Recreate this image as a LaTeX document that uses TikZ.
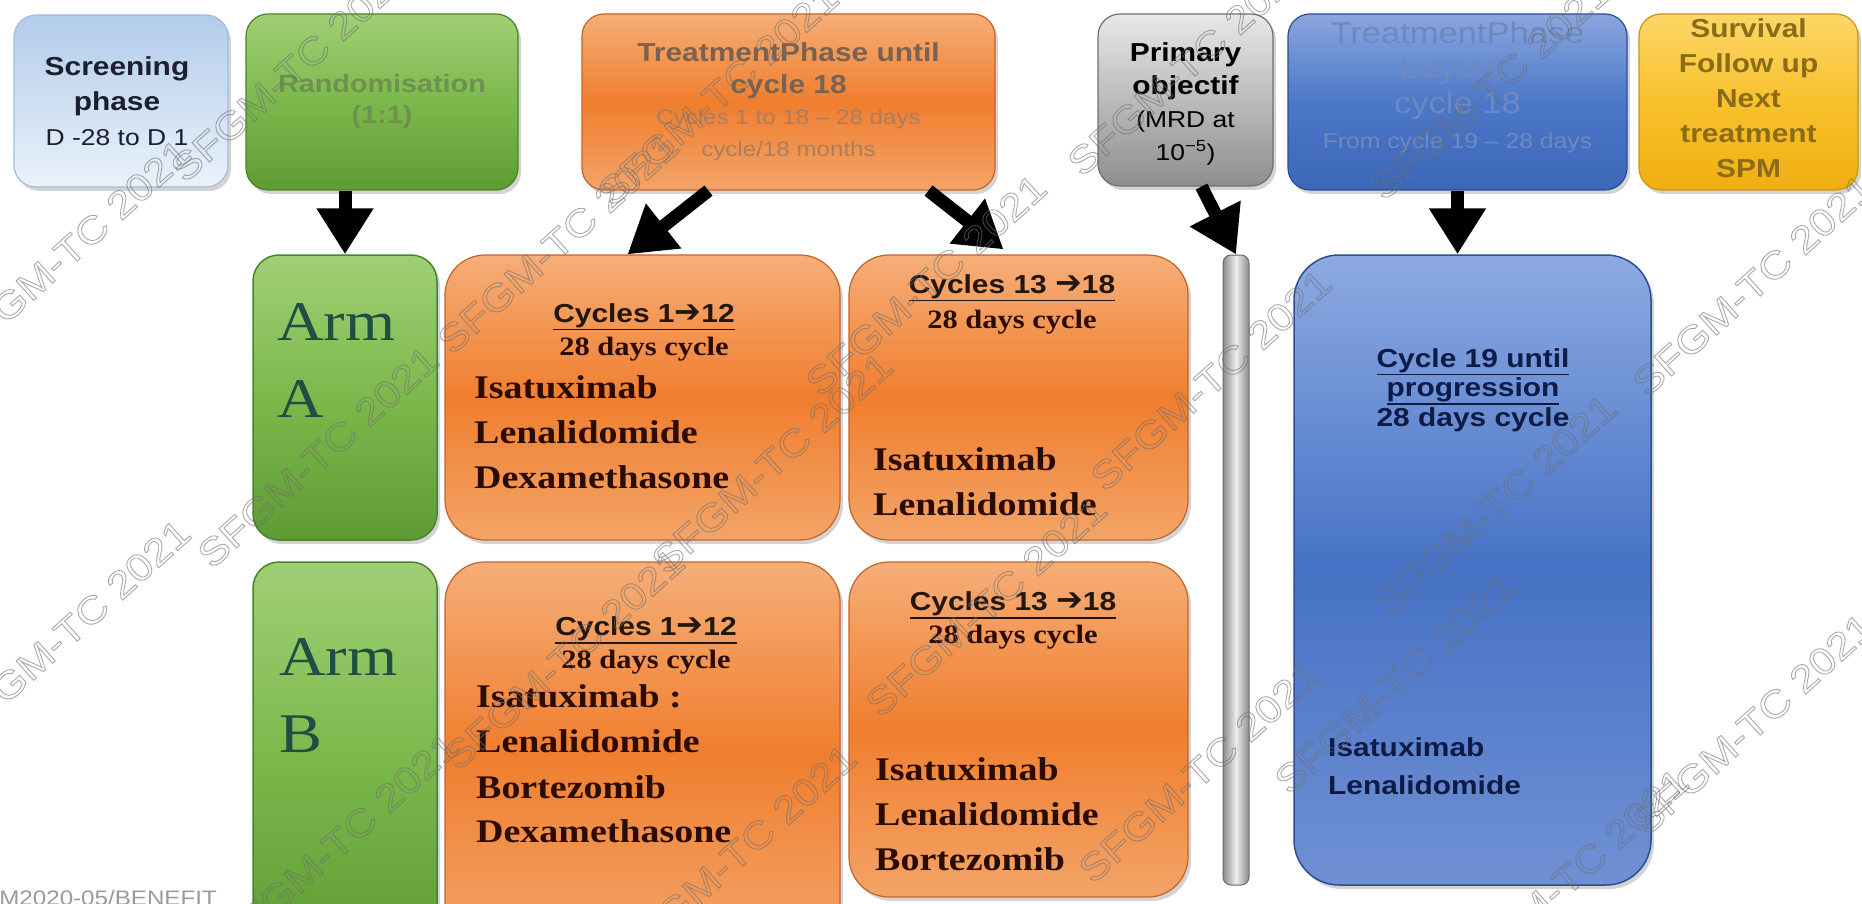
\documentclass[tikz,border=0pt]{standalone}
\usepackage{fontspec}
\setmainfont{Liberation Serif}[FakeStretch=1.15]
\newfontfamily\arial{Liberation Sans}[FakeStretch=1.15]
\newfontfamily\symfont{DejaVu Sans}
\usetikzlibrary{arrows.meta, shadows, calc}

% box colours
\definecolor{scrTop}{HTML}{B2CCEA}
\definecolor{scrBot}{HTML}{EAF2FB}
\definecolor{scrEdge}{HTML}{A3BEDD}
\definecolor{grnTop}{HTML}{A0CF75}
\definecolor{grnMid}{HTML}{7CB94C}
\definecolor{grnBot}{HTML}{5E9B33}
\definecolor{grnEdge}{HTML}{4A842A}
\definecolor{oraTop}{HTML}{F6AE78}
\definecolor{oraMid}{HTML}{F07E2E}
\definecolor{oraBot}{HTML}{F3A468}
\definecolor{oraEdge}{HTML}{C46428}
\definecolor{priTop}{HTML}{E8E8E8}
\definecolor{priBot}{HTML}{8E8E8E}
\definecolor{priEdge}{HTML}{6E6E6E}
\definecolor{bluTop}{HTML}{8AA6DE}
\definecolor{bluMid}{HTML}{4C78C8}
\definecolor{bluBot}{HTML}{3C66B8}
\definecolor{bluEdge}{HTML}{2B4E93}
\definecolor{mntTop}{HTML}{8DAAE2}
\definecolor{mntMid}{HTML}{4672C5}
\definecolor{mntBot}{HTML}{7090D4}
\definecolor{yelTop}{HTML}{FCD767}
\definecolor{yelMid}{HTML}{F8C12C}
\definecolor{yelBot}{HTML}{F1AE12}
\definecolor{yelEdge}{HTML}{C99512}
\definecolor{barSide}{HTML}{8C8C8C}
\definecolor{barLight}{HTML}{EDEDED}
\definecolor{barEdge}{HTML}{6A6A6A}
% text colours
\definecolor{scrText}{HTML}{1B1F2E}
\definecolor{randText}{HTML}{6E9150}
\definecolor{treatText}{HTML}{7A6250}
\definecolor{treatSub}{HTML}{A97E5E}
\definecolor{beyText}{HTML}{6E88C2}
\definecolor{survText}{HTML}{8A6C18}
\definecolor{armText}{HTML}{1F4E42}
\definecolor{hdrText}{HTML}{22170F}
\definecolor{drugText}{HTML}{2A0C02}
\definecolor{maintText}{HTML}{0E1B45}
\definecolor{footGray}{HTML}{9A9A9A}
\definecolor{wmGray}{HTML}{707070}

\newcommand{\thul}[1]{\vtop{\hbox{#1}\kern1.5pt\hrule height 1.6pt}}
\newcommand{\rarr}{{\symfont\fontsize{32}{32}\selectfont ➔}}
\newcommand{\wmtxt}{\special{pdf:code 1 Tr 0.9 w}SFGM-TC 2021\special{pdf:code 0 Tr}}

\begin{document}
\begin{tikzpicture}[x=1pt, y=-1pt,
    phase/.style={draw, rounded corners=22pt, line width=1.2pt, align=center, inner sep=0pt,
        drop shadow={opacity=.35, shadow xshift=3pt, shadow yshift=-4pt}},
    phasetext/.style={align=center, inner sep=0pt},
    arm/.style={draw=grnEdge, rounded corners=26pt, line width=1.5pt, top color=grnTop, bottom color=grnBot, middle color=grnMid,
        minimum width=184pt, drop shadow={opacity=.35, shadow xshift=3pt, shadow yshift=-4pt}},
    regimen/.style={draw=oraEdge, rounded corners=40pt, line width=1.2pt, top color=oraTop, bottom color=oraBot, middle color=oraMid,
        drop shadow={opacity=.35, shadow xshift=3pt, shadow yshift=-4pt}},
    bigarrow/.style={line width=13pt, -{Triangle[width=54pt,length=46pt]}},
    cychead/.style={anchor=base, inner sep=0pt, text=hdrText, font=\arial\bfseries\fontsize{26}{30}\selectfont},
    cycdays/.style={anchor=base, inner sep=0pt, text=drugText, font=\bfseries\fontsize{26.5}{30}\selectfont},
    drug/.style={anchor=base west, inner sep=0pt, text=drugText, font=\bfseries\fontsize{33}{40}\selectfont},
    armlabel/.style={anchor=base west, inner sep=0pt, text=armText, font=\fontsize{56}{60}\selectfont},
    mainttext/.style={inner sep=0pt, text=maintText, font=\arial\bfseries\fontsize{26}{30}\selectfont},
    wmark/.style={rotate=42, text=wmGray, opacity=.6, inner sep=0pt, font=\arial\fontsize{38}{40}\selectfont}
]
\useasboundingbox (0,0) rectangle (1862,904);
\clip (0,0) rectangle (1862,904);

% Top row of phases
\node[phase, draw=scrEdge, top color=scrTop, bottom color=scrBot, minimum width=214pt, minimum height=172pt] (screen) at (121,101) {};
\node[phasetext, text=scrText, font=\arial\fontsize{26}{35}\selectfont, xshift=-4pt] (screentxt) at (screen.center)
    {\textbf{Screening}\\\textbf{phase}\\{\fontsize{23}{35}\selectfont D -28 to D 1}};
\node[phase, draw=grnEdge, top color=grnTop, bottom color=grnBot, middle color=grnMid, minimum width=272pt, minimum height=176pt,
    text=randText, font=\arial\bfseries\fontsize{25}{31}\selectfont] (rando) at (382,102) {Randomisation\\(1:1)};
\node[phase, draw=oraEdge, top color=oraTop, bottom color=oraBot, middle color=oraMid, minimum width=413pt, minimum height=176pt,
    font=\arial\fontsize{26}{31.5}\selectfont] (treat) at (788.5,102)
    {\textcolor{treatText}{\textbf{TreatmentPhase until}}\\\textcolor{treatText}{\textbf{cycle 18}}\\
     \textcolor{treatSub}{\fontsize{21}{31.5}\selectfont Cycles 1 to 18 – 28 days}\\\textcolor{treatSub}{\fontsize{21}{31.5}\selectfont cycle/18 months}};
\node[phase, draw=priEdge, top color=priTop, bottom color=priBot, minimum width=175pt, minimum height=172pt] (primobj) at (1185.5,100) {};
\node[phasetext, font=\arial\fontsize{26}{33}\selectfont, yshift=-4pt] (primtxt) at (primobj.center)
    {\textbf{Primary}\\\textbf{objectif}\\{\fontsize{23}{33}\selectfont(MRD at}\\{\fontsize{23}{33}\selectfont 10\textsuperscript{−5})}};
\node[phase, draw=bluEdge, top color=bluTop, bottom color=bluBot, middle color=bluMid, minimum width=339pt, minimum height=176pt] (beyond) at (1457.5,102) {};
\node[phasetext, text=beyText, font=\arial\fontsize{30}{35}\selectfont, yshift=15pt] (beyondtxt) at (beyond.center)
    {TreatmentPhase\\beyond\\cycle 18\\{\fontsize{21.5}{35}\selectfont From cycle 19 – 28 days}};
\node[phase, draw=yelEdge, top color=yelTop, bottom color=yelBot, middle color=yelMid, minimum width=219pt, minimum height=176pt] (surv) at (1748.5,102) {};
\node[phasetext, text=survText, font=\arial\bfseries\fontsize{26}{35}\selectfont, yshift=4pt] (survtxt) at (surv.center)
    {Survival\\Follow up\\Next\\treatment\\SPM};

% Arm A
\node[arm, minimum height=285pt] (armA) at (345,397.5) {};
\node[armlabel] (armAl1) at (277,340) {Arm};
\node[armlabel] (armAl2) at (277,417) {A};
\node[regimen, minimum width=395pt, minimum height=285pt] (cycA1) at (642.5,397.5) {};
\node[cychead] (hdA1) at (644,322) {\thul{Cycles 1\rarr12}};
\node[cycdays] (dyA1) at (644,355) {28 days cycle};
\node[drug] (isaA1) at (474,398) {Isatuximab};
\node[drug] (lenA1) at (474,443) {Lenalidomide};
\node[drug] (dexA1) at (474,488) {Dexamethasone};
\node[regimen, minimum width=339pt, minimum height=285pt] (cycA2) at (1018.5,397.5) {};
\node[cychead] (hdA2) at (1012,293) {\thul{Cycles 13 \rarr18}};
\node[cycdays] (dyA2) at (1012,328) {28 days cycle};
\node[drug] (isaA2) at (873,470) {Isatuximab};
\node[drug] (lenA2) at (873,515) {Lenalidomide};

% Arm B
\node[arm, minimum height=388pt] (armB) at (345,756) {};
\node[armlabel] (armBl1) at (279,675) {Arm};
\node[armlabel] (armBl2) at (279,752) {B};
\node[regimen, minimum width=395pt, minimum height=383pt] (cycB1) at (642.5,753.5) {};
\node[cychead] (hdB1) at (646,635) {\thul{Cycles 1\rarr12}};
\node[cycdays] (dyB1) at (646,668) {28 days cycle};
\node[drug] (isaB1) at (476,707) {Isatuximab :};
\node[drug] (lenB1) at (476,752) {Lenalidomide};
\node[drug] (borB1) at (476,798) {Bortezomib};
\node[drug] (dexB1) at (476,842) {Dexamethasone};
\node[regimen, minimum width=339pt, minimum height=335pt] (cycB2) at (1018.5,729.5) {};
\node[cychead] (hdB2) at (1013,610) {\thul{Cycles 13 \rarr18}};
\node[cycdays] (dyB2) at (1013,643) {28 days cycle};
\node[drug] (isaB2) at (875,780) {Isatuximab};
\node[drug] (lenB2) at (875,825) {Lenalidomide};
\node[drug] (borB2) at (875,870) {Bortezomib};

% Primary objective bar and maintenance
\node[draw=barEdge, line width=1pt, rounded corners=8pt, left color=barSide, right color=barSide, middle color=barLight,
    minimum width=26pt, minimum height=630pt, inner sep=0pt] (mrdbar) at (1236,570) {};
\node[draw=bluEdge, line width=1.5pt, rounded corners=45pt, top color=mntTop, bottom color=mntBot, middle color=mntMid,
    minimum width=357pt, minimum height=630pt, drop shadow={opacity=.35, shadow xshift=3pt, shadow yshift=-4pt}] (maint) at (1472.5,570) {};
\node[mainttext, anchor=base] (mnt1) at (1473,367) {\thul{Cycle 19 until}};
\node[mainttext, anchor=base] (mnt2) at (1473,396) {\thul{progression}};
\node[mainttext, anchor=base] (mnt3) at (1473,426) {28 days cycle};
\node[mainttext, anchor=base west] (isaM) at (1328,756) {Isatuximab};
\node[mainttext, anchor=base west] (lenM) at (1328,794) {Lenalidomide};

% Arrows
\draw[bigarrow] (armA.north |- rando.south) -- (armA.north);
\draw[bigarrow] ($(treat.south)+(-80,0)$) -- ($(cycA1.north)+(-15,0)$);
\draw[bigarrow] ($(treat.south)+(140,0)$) -- ($(cycA2.north)+(-15,-5)$);
\draw[bigarrow] ($(primobj.south)+(16,0)$) -- (mrdbar.north);
\draw[bigarrow] (beyond.south) -- (beyond.south |- maint.north);

% Trial reference
\node[anchor=base east, inner sep=0pt, text=footGray, font=\arial\fontsize{21}{24}\selectfont] (trialid) at (217,905) {IFM2020-05/BENEFIT};

% Watermarks
\node[wmark] (wm1) at (291,71) {\wmtxt};
\node[wmark] (wm2) at (70,250) {\wmtxt};
\node[wmark] (wm3) at (558,243) {\wmtxt};
\node[wmark] (wm4) at (718,95) {\wmtxt};
\node[wmark] (wm5) at (926,285) {\wmtxt};
\node[wmark] (wm6) at (1188,65) {\wmtxt};
\node[wmark] (wm7) at (1490,89) {\wmtxt};
\node[wmark] (wm8) at (1753,285) {\wmtxt};
\node[wmark] (wm9) at (318,457) {\wmtxt};
\node[wmark] (wm10) at (772,463) {\wmtxt};
\node[wmark] (wm11) at (1211,380) {\wmtxt};
\node[wmark] (wm12) at (1496,505) {\wmtxt};
\node[wmark] (wm13) at (70,630) {\wmtxt};
\node[wmark] (wm14) at (564,659) {\wmtxt};
\node[wmark] (wm15) at (986,606) {\wmtxt};
\node[wmark] (wm16) at (1199,772) {\wmtxt};
\node[wmark] (wm17) at (1395,683) {\wmtxt};
\node[wmark] (wm18) at (1753,724) {\wmtxt};
\node[wmark] (wm19) at (736,855) {\wmtxt};
\node[wmark] (wm20) at (338,843) {\wmtxt};
\node[wmark] (wm21) at (1568,879) {\wmtxt};

\end{tikzpicture}
\end{document}
